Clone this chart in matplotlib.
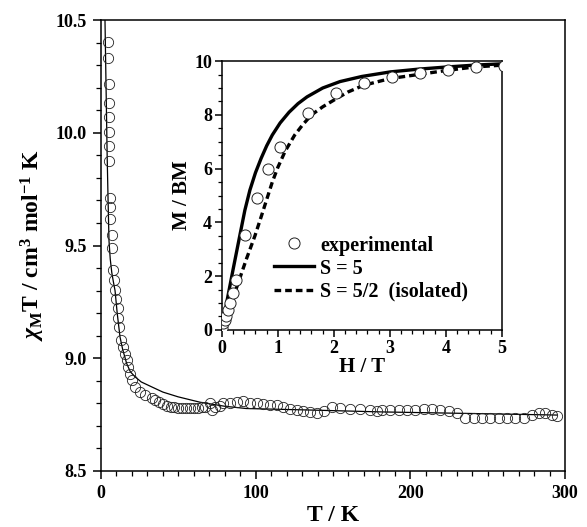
import matplotlib
matplotlib.use("Agg")
import matplotlib.pyplot as plt
from matplotlib.ticker import MultipleLocator

plt.rcParams['font.family'] = ['Liberation Serif', 'DejaVu Serif']
plt.rcParams['font.weight'] = 'bold'
plt.rcParams['mathtext.fontset'] = 'custom'
plt.rcParams['mathtext.rm'] = 'Liberation Serif:bold'
plt.rcParams['mathtext.it'] = 'Liberation Serif:italic:bold'
plt.rcParams['mathtext.bf'] = 'Liberation Serif:bold'

# ---- main plot: chi_M T vs T ----
T_exp = [4.7, 4.7, 5.2, 5.2, 5.2, 5.2, 5.2, 5.2, 5.8, 5.8, 5.8, 6.9, 6.9,
         8.0, 8.4, 9.1, 9.5, 10.8, 11.2, 11.9, 12.7, 14.4, 15.5, 16.6, 17.7,
         18.8, 19.9, 22.0, 25.2, 28.5, 32.8, 35.0, 37.5, 40.0, 42.5, 45.0,
         47.5, 50.0, 52.5, 55.0, 57.5, 60.0, 62.5, 65.0, 67.3, 70.6, 72.0,
         73.8, 77.0, 79.2, 83.5, 87.8, 92.1, 96.4, 100.8, 105.0, 109.4,
         113.7, 118.0, 122.3, 126.7, 130.9, 135.3, 139.6, 143.9, 149.3,
         154.7, 161.2, 167.6, 174.0, 178.4, 181.7, 187.0, 192.4, 197.9,
         203.2, 208.6, 214.0, 219.4, 224.8, 230.2, 235.6, 241.0, 246.4,
         251.8, 257.2, 262.6, 268.0, 273.3, 278.8, 283.0, 287.4, 291.7, 295.0]
chiT_exp = [10.404, 10.33, 10.216, 10.13, 10.071, 10.004, 9.941, 9.876,
            9.709, 9.672, 9.617, 9.546, 9.487,
            9.391, 9.347, 9.302, 9.261, 9.221, 9.177, 9.137, 9.08, 9.05,
            9.021, 8.99, 8.962, 8.932, 8.903, 8.873, 8.851, 8.836, 8.822,
            8.815, 8.805, 8.797, 8.79, 8.785, 8.782, 8.78, 8.779, 8.779,
            8.779, 8.78, 8.781, 8.782, 8.784, 8.80, 8.77, 8.784, 8.79,
            8.802, 8.802, 8.807, 8.811, 8.802, 8.80, 8.796, 8.792, 8.792,
            8.784, 8.777, 8.77, 8.767, 8.762, 8.758, 8.767, 8.784, 8.781,
            8.773, 8.773, 8.77, 8.767, 8.77, 8.77, 8.77, 8.77, 8.77, 8.773,
            8.773, 8.77, 8.767, 8.755, 8.737, 8.733, 8.733, 8.733, 8.733,
            8.733, 8.733, 8.737, 8.748, 8.755, 8.755, 8.748, 8.743]

T_fit = [2.6, 3.3, 4.0, 4.6, 5.2, 6.0, 7.0, 8.0, 9.1, 10.5, 12.3, 14.0,
         16.6, 19.0, 22.0, 26.0, 32.8, 40.0, 49.8, 64.0, 80.0, 94.0, 137.0,
         181.0, 239.0, 295.0]
chiT_fit = [10.5, 10.2, 9.9, 9.7, 9.52, 9.44, 9.38, 9.34, 9.30, 9.2, 9.095,
            9.04, 8.977, 8.94, 8.918, 8.895, 8.873, 8.85, 8.829, 8.805, 8.787,
            8.777, 8.77, 8.762, 8.755, 8.748]

# ---- inset: M vs H ----
H_exp = [0.0, 0.02, 0.05, 0.08, 0.11, 0.14, 0.2, 0.26, 0.41, 0.63,
         0.83, 1.04, 1.53, 2.03, 2.53, 3.03, 3.54, 4.03, 4.53, 5.04]
M_exp = [0.06, 0.25, 0.38, 0.5, 0.74, 1.0, 1.36, 1.86, 3.53, 4.9,
         5.97, 6.79, 8.08, 8.8, 9.2, 9.42, 9.57, 9.67, 9.77, 9.81]

H_s5 = [0.0, 0.05, 0.1, 0.2, 0.3, 0.41, 0.5, 0.6, 0.7, 0.8, 0.9, 1.04, 1.2,
        1.36, 1.52, 1.8, 2.11, 2.5, 3.01, 3.5, 4.0, 4.5, 5.0]
M_s5 = [0.0, 0.58, 1.17, 2.25, 3.3, 4.45, 5.2, 5.85, 6.38, 6.85, 7.25, 7.7,
        8.1, 8.42, 8.67, 9.0, 9.24, 9.43, 9.6, 9.7, 9.78, 9.85, 9.9]

H_s52 = [0.0, 0.1, 0.2, 0.3, 0.44, 0.59, 0.7, 0.8, 0.9, 1.0, 1.13, 1.3,
         1.45, 1.6, 1.8, 2.0, 2.25, 2.53, 3.0, 3.5, 4.0, 4.5, 5.0]
M_s52 = [0.0, 0.6, 1.2, 1.8, 2.65, 3.5, 4.2, 4.85, 5.5, 6.05, 6.65, 7.25,
         7.65, 8.0, 8.3, 8.55, 8.85, 9.1, 9.35, 9.5, 9.65, 9.78, 9.85]

fig = plt.figure(figsize=(5.87, 5.27), dpi=100)
ax = fig.add_axes([0.172, 0.1063, 0.7905, 0.8557])
ax.plot(T_fit, chiT_fit, color='black', lw=0.9, zorder=2)
ax.plot(T_exp, chiT_exp, linestyle='none', marker='o', ms=7.4, mfc='none',
        mec='#222222', mew=0.6, zorder=3)
ax.set_xlim(0, 300)
ax.set_ylim(8.5, 10.5)
ax.xaxis.set_major_locator(MultipleLocator(100))
ax.xaxis.set_minor_locator(MultipleLocator(10))
ax.yaxis.set_major_locator(MultipleLocator(0.5))
ax.yaxis.set_minor_locator(MultipleLocator(0.1))
ax.set_yticks([8.5, 9.0, 9.5, 10.0, 10.5])
ax.set_yticklabels(['8.5', '9.0', '9.5', '10.0', '10.5'])
ax.tick_params(which='major', direction='out', length=6, width=1.1,
               labelsize=13, pad=4)
ax.tick_params(which='minor', direction='out', length=3.5, width=0.9)
for s in ax.spines.values():
    s.set_linewidth(1.1)
ax.set_xlabel('T / K', fontsize=17, fontweight='bold', labelpad=2)
ax.set_ylabel(r'$\chi_{\rm M}$T / cm$^{3}$ mol$^{-1}$ K', fontsize=17,
              fontweight='bold', labelpad=6)

ins = fig.add_axes([0.378, 0.374, 0.477, 0.510])
ins.plot(H_s5, M_s5, color='black', lw=2.4, label='S = 5', zorder=2)
ins.plot(H_s52, M_s52, color='black', lw=2.4, linestyle=(0, (2.0, 1.2)),
         label='S = 5/2  (isolated)', zorder=2)
ins.plot(H_exp, M_exp, linestyle='none', marker='o', ms=8, mfc='white',
         mec='#222222', mew=0.7, label='experimental', zorder=3)
ins.set_xlim(0, 5)
ins.set_ylim(0, 10)
ins.xaxis.set_major_locator(MultipleLocator(1))
ins.xaxis.set_minor_locator(MultipleLocator(0.2))
ins.yaxis.set_major_locator(MultipleLocator(2))
ins.yaxis.set_minor_locator(MultipleLocator(0.5))
ins.tick_params(which='major', direction='out', length=5, width=1.1,
                labelsize=13, pad=2)
ins.tick_params(which='minor', direction='out', length=3, width=0.9)
for s in ins.spines.values():
    s.set_linewidth(1.1)
ins.set_xlabel('H / T', fontsize=15, fontweight='bold', labelpad=0)
ins.set_ylabel('M / BM', fontsize=15, fontweight='bold', labelpad=2)
h, l = ins.get_legend_handles_labels()
order = [2, 0, 1]
ins.legend([h[i] for i in order], [l[i] for i in order], loc='lower left',
           bbox_to_anchor=(0.12, 0.038), frameon=False,
           handlelength=2.0, handletextpad=0.3, labelspacing=0.15,
           prop={'weight': 'bold', 'size': 14.5})

fig.savefig('out.png', dpi=100)
